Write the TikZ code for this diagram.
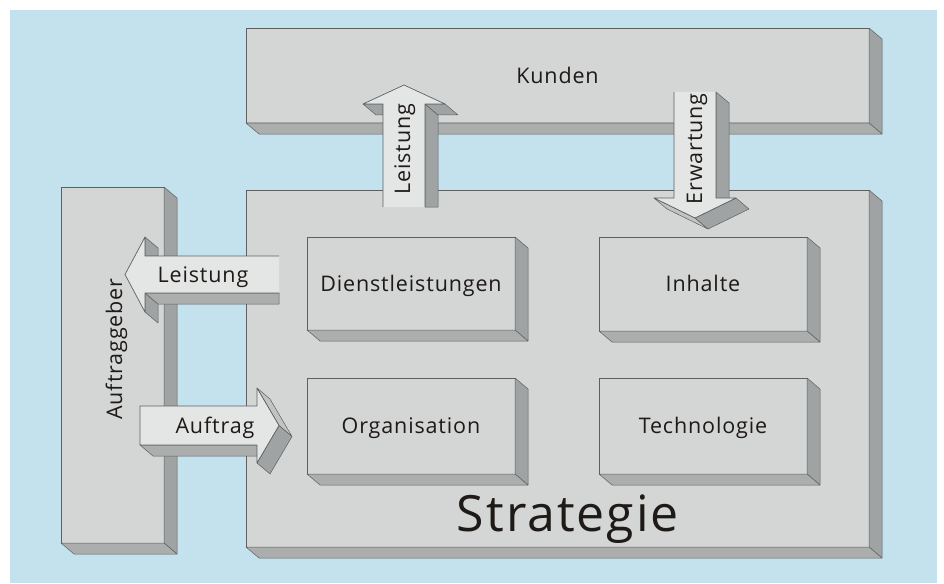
\documentclass[tikz,border=0pt]{standalone}
\usepackage{fontspec}
\setmainfont{Open Sans}[LetterSpace=4]
\usetikzlibrary{calc}

\definecolor{bgblue}{HTML}{C4E2EE}
\definecolor{boxfront}{HTML}{D4D6D5}
\definecolor{boxside}{HTML}{A0A3A3}
\definecolor{boxbottom}{HTML}{ABAEAD}
\definecolor{arrfront}{HTML}{E4E6E5}
\definecolor{arrmid}{HTML}{C2C4C3}
\definecolor{edge}{HTML}{5E6060}
\definecolor{ink}{HTML}{1E1A17}

% right and bottom faces of a block node
\newcommand{\extrude}[1]{%
  \filldraw[side] (#1.north east) -- ++(\dx,\dy) -- ($(#1.south east)+(\dx,\dy)$) -- (#1.south east) -- cycle;
  \filldraw[under] (#1.south west) -- ($(#1.south west)+(\dx,\dy)$) -- ($(#1.south east)+(\dx,\dy)$) -- (#1.south east) -- cycle;
}

\begin{document}
\begin{tikzpicture}[x=1pt,y=-1pt,
  box/.style={draw=edge,fill=boxfront,line width=.7pt,outer sep=0pt,inner sep=0pt,
    text=ink,font=\fontsize{21.5}{25}\selectfont,text height=15.3pt,text depth=0pt},
  side/.style={draw=edge,fill=boxside,line width=.5pt,line join=round},
  under/.style={draw=edge,fill=boxbottom,line width=.5pt,line join=round},
  mid/.style={draw=edge,fill=arrmid,line width=.5pt,line join=round},
  blk/.style={draw=edge,fill=arrfront,line width=.7pt,line join=round},
  lbl/.style={text=ink,font=\fontsize{21.5}{25}\selectfont,inner sep=0pt}]

\def\dx{13}
\def\dy{11}

\useasboundingbox (0,0) rectangle (944,583);
\fill[white] (0,0) rectangle (944,583);
\fill[bgblue] (10,10) rectangle (937,583);

% blocks
\node[box,minimum width=103,minimum height=356] (auftraggeber) at (112.5,365) {};
\extrude{auftraggeber}
\node[lbl,rotate=90,anchor=base] (auftraggebertxt) at (122,349) {Auftraggeber};

\node[box,minimum width=623,minimum height=357] (strategie) at (557.5,368.5) {};
\extrude{strategie}

\node[box,minimum width=623,minimum height=95] (kunden) at (557.5,75.5) {Kunden};
\extrude{kunden}

\node[box,minimum width=208,minimum height=93] (dienst) at (411,283.5) {Dienstleistungen};
\node[box,minimum width=208,minimum height=94] (inhalte) at (703,284) {Inhalte};
\node[box,minimum width=208,minimum height=96] (orga) at (411,426) {Organisation};
\node[box,minimum width=208,minimum height=96] (techno) at (703,426) {Technologie};
\foreach \n in {dienst,inhalte,orga,techno} {\extrude{\n}}

\node[lbl,font=\fontsize{50}{58}\selectfont,anchor=base] (strategietxt) at (568,531) {Strategie};

% Leistung up to Kunden
\filldraw[side] (425,104) -- (438,115) -- (438,207) -- (425,207) -- cycle;
\filldraw[side] (425,104) -- (445,104) -- (458,115) -- (438,115) -- cycle;
\filldraw[side] (363,104) -- (383,104) -- (383,115) -- (376,115) -- cycle;
\filldraw[blk] (425,207) -- (425,104) -- (445,104) -- (404,85) -- (363,104) -- (383,104) -- (383,207);
\node[lbl,rotate=90,anchor=base] (leistungtxt) at (410,149) {Leistung};

% Erwartung down from Kunden
\filldraw[side] (716,92) -- (729,103) -- (729,209) -- (716,198) -- cycle;
\filldraw[mid] (654,198) -- (695,218) -- (708,229) -- (667,209) -- cycle;
\filldraw[side] (695,218) -- (736,198) -- (749,209) -- (708,229) -- cycle;
\filldraw[blk] (674,92) -- (674,198) -- (654,198) -- (695,218) -- (736,198) -- (716,198) -- (716,92);
\node[lbl,rotate=90,anchor=base] (erwartungtxt) at (702,149) {Erwartung};

% Leistung left to Auftraggeber
\filldraw[side] (145,237) -- (158,248) -- (158,256) -- (145,256) -- cycle;
\filldraw[side] (145,293) -- (145,312) -- (158,323) -- (158,304) -- cycle;
\filldraw[under] (145,293) -- (279,293) -- (279,304) -- (158,304) -- cycle;
\filldraw[blk] (279,256) -- (145,256) -- (145,237) -- (125,274.5) -- (145,312) -- (145,293) -- (279,293);
\node[lbl,anchor=base] (leistunglefttxt) at (203,282) {Leistung};

% Auftrag right into Strategie
\filldraw[under] (140,445) -- (257,445) -- (270,456) -- (153,456) -- cycle;
\filldraw[mid] (257,388) -- (279,425.5) -- (292,436.5) -- (270,399) -- cycle;
\filldraw[side] (257,463) -- (279,425.5) -- (292,436.5) -- (270,474) -- cycle;
\filldraw[blk] (140,406) -- (257,406) -- (257,388) -- (279,425.5) -- (257,463) -- (257,445) -- (140,445) -- cycle;
\node[lbl,anchor=base] (auftragtxt) at (215,433) {Auftrag};
\end{tikzpicture}
\end{document}
